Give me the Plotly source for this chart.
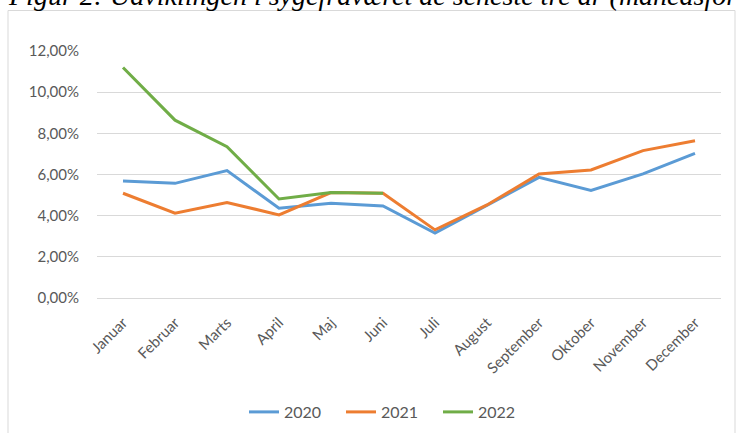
import plotly.graph_objects as go

months = ["Januar", "Februar", "Marts", "April", "Maj", "Juni", "Juli",
          "August", "September", "Oktober", "November", "December"]
y2020 = [0.0569, 0.0557, 0.0619, 0.0436, 0.0460, 0.0447, 0.0315,
         0.0452, 0.0586, 0.0522, 0.0603, 0.0703]
y2021 = [0.0509, 0.0412, 0.0464, 0.0404, 0.0512, 0.0509, 0.0331,
         0.0452, 0.0603, 0.0622, 0.0716, 0.0764]
y2022 = [0.1120, 0.0864, 0.0735, 0.0481, 0.0512, 0.0509]
series = [("2020", y2020, "#5B9BD5"), ("2021", y2021, "#ED7D31"), ("2022", y2022, "#70AD47")]
yticks = [0, 0.02, 0.04, 0.06, 0.08, 0.10, 0.12]
title_text = "Figur 2: Udviklingen i sygefraværet de seneste tre år (månedsfordelt)"

fig = go.Figure()
for name, vals, col in series:
    fig.add_trace(go.Scatter(x=months[:len(vals)], y=vals, name=name, mode="lines",
                             line=dict(color=col, width=3)))

L, R, T, B = 97, 15, 51, 135
W, H = 736, 433
pw, ph = W - L - R, H - T - B

def px(x):
    return (x - L) / pw

def py(y):
    return (H - B - y) / ph

fig.add_shape(type="rect", xref="paper", yref="paper",
              x0=px(8), x1=px(735), y0=py(440), y1=py(10.5),
              line=dict(color="#D9D9D9", width=1), fillcolor="rgba(0,0,0,0)", layer="below")

fig.add_annotation(text=title_text, xref="paper", yref="paper", x=px(6), y=py(13),
                   xanchor="left", yanchor="bottom", showarrow=False,
                   font=dict(family="Liberation Serif", size=28, color="#000000", style="italic"))

fig.update_layout(
    width=W, height=H,
    margin=dict(l=L, r=R, t=T, b=B, pad=0, autoexpand=False),
    paper_bgcolor="white", plot_bgcolor="white",
    separators=",.",
    font=dict(family="Lato", size=15, color="#595959"),
    showlegend=True,
    legend=dict(orientation="h", xref="container", yref="container",
                x=244 / W, xanchor="left", y=1 - 412 / H, yanchor="middle",
                font=dict(size=16, color="#595959"), entrywidth=52, entrywidthmode="pixels",
                traceorder="normal"),
    xaxis=dict(type="category", categoryarray=months, tickangle=-45, showgrid=False,
               showline=False, zeroline=False, ticks="", ticklabelstandoff=12,
               automargin=False,
               range=[-0.5, 11.5], tickfont=dict(size=15, color="#595959")),
    yaxis=dict(range=[0, 0.12], tickvals=yticks, tickformat=".2%", showgrid=True,
               gridcolor="#D9D9D9", gridwidth=1, zeroline=True, zerolinecolor="#D9D9D9",
               zerolinewidth=1, showline=False, ticks="", ticklabelstandoff=17,
               automargin=False, tickfont=dict(size=15, color="#595959")),
)

fig.write_html("out.html", config={"displayModeBar": False},
               post_script="document.body.style.margin='0';document.body.style.overflow='hidden';")
